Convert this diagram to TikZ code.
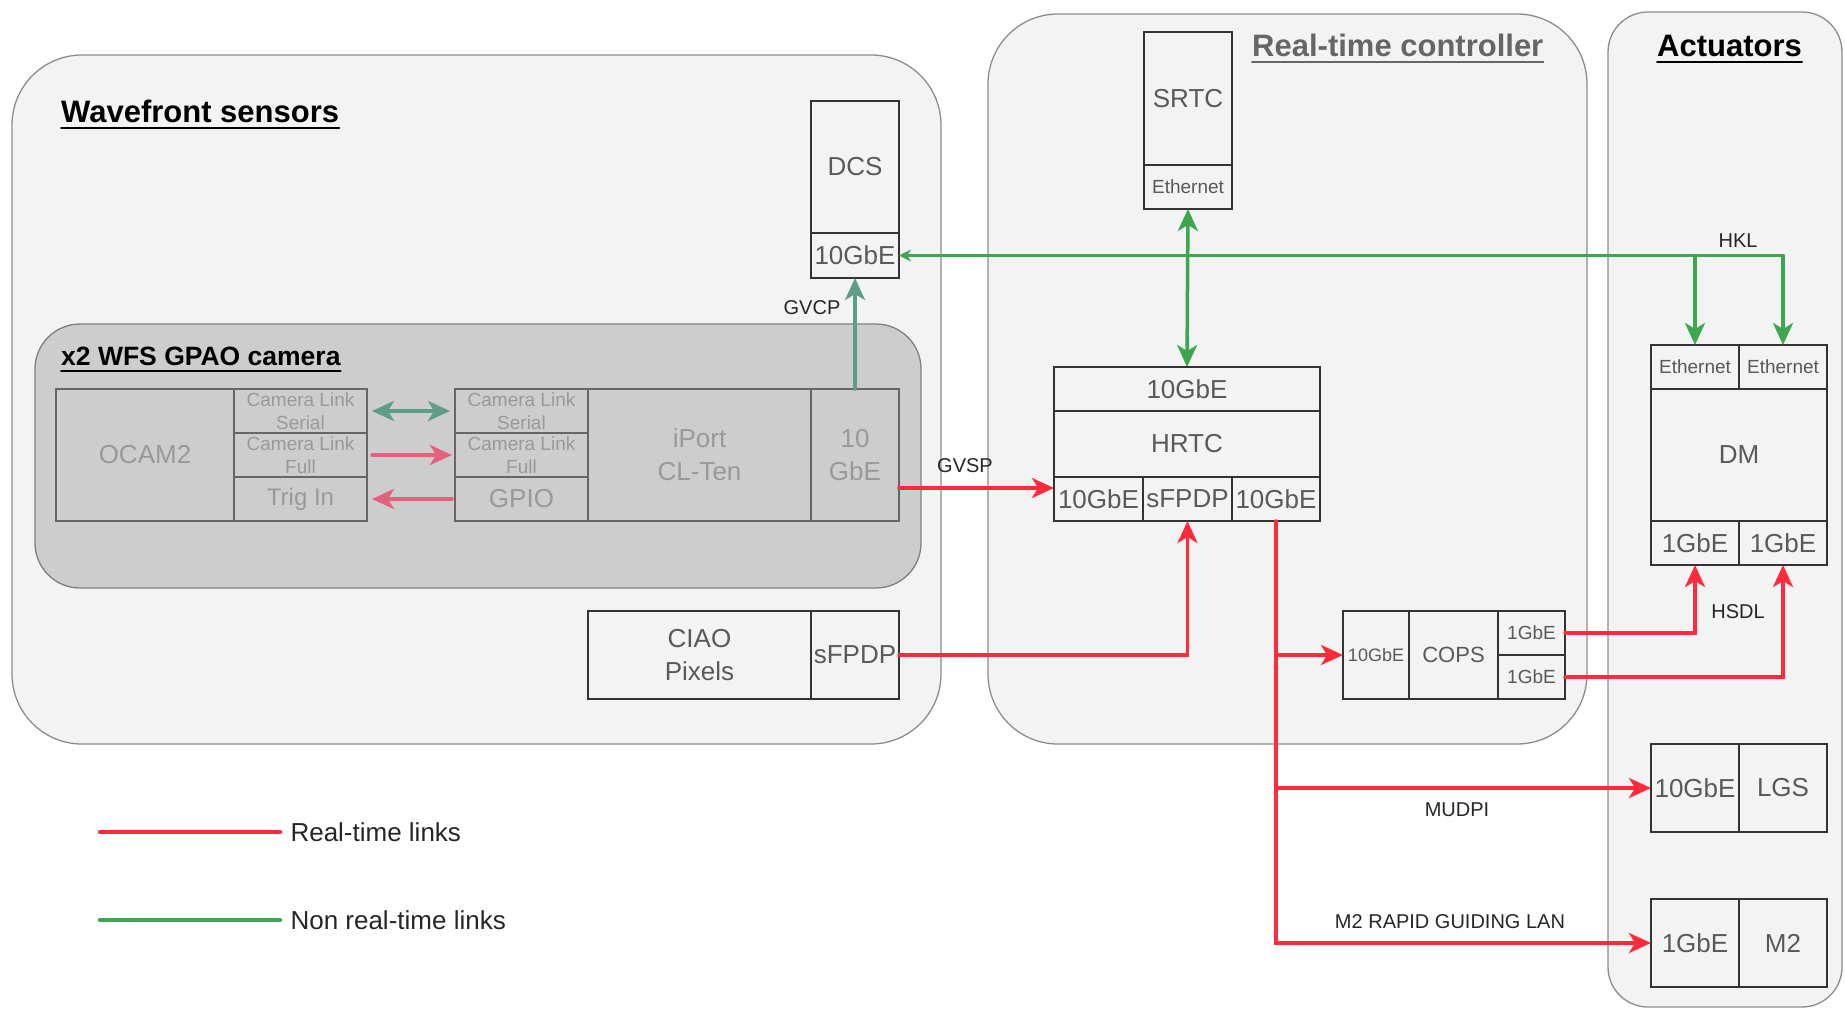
\documentclass[tikz,border=0pt]{standalone}
\usepackage{fontspec}
\setmainfont{Liberation Sans}
\usetikzlibrary{arrows.meta}

\definecolor{rtred}{HTML}{FF2B3C}
\definecolor{camred}{HTML}{E4607C}
\definecolor{nrtgreen}{HTML}{3DA64F}
\definecolor{camgreen}{HTML}{5E9E86}
\definecolor{groupfill}{HTML}{F3F3F3}
\definecolor{camfill}{HTML}{CDCDCD}

\newcommand{\pxfont}[2]{\fontsize{#1}{#2}\selectfont}

\begin{document}
\begin{tikzpicture}[x=1pt,y=-1pt,line cap=round,
    >={Stealth[length=22pt,width=20pt,inset=6pt]},
    cell/.style={draw=black!80,line width=1.4pt,inner sep=0pt,outer sep=0pt,anchor=north west,
        text=black!65,align=center,font=\pxfont{26}{33}},
    camcell/.style={cell,draw=black!60,text=black!40},
    small/.style={font=\pxfont{19}{23}},
    group/.style={draw=black!45,line width=1.3pt,fill=groupfill},
    title/.style={anchor=base west,inner sep=0pt,font=\bfseries\pxfont{31}{35}},
    rt/.style={draw=rtred,line width=3.5pt},
    nrt/.style={draw=nrtgreen,line width=3.5pt},
    lbl/.style={font=\pxfont{20}{23},text=black!85}]

    \useasboundingbox[fill=white] (0,0) rectangle (1845,1009);

    \draw[group,rounded corners=70pt] (12,55) rectangle (941,744);
    \draw[group,rounded corners=70pt] (988,14) rectangle (1587,744);
    \draw[group,rounded corners=40pt] (1608,12) rectangle (1842,1007);
    \draw[draw=black!50,line width=1.3pt,fill=camfill,rounded corners=45pt] (35,324) rectangle (921,588);

    \node[title] (wfst) at (61,122) {Wavefront sensors};
    \node[title,text=black!60] (rtct) at (1252,56) {Real-time controller};
    \node[title] (actt) at (1657,56) {Actuators};
    \node[title,font=\bfseries\pxfont{26.5}{30}] (camt) at (61,365) {x2 WFS GPAO camera};
    \foreach \t/\c in {wfst/black,rtct/black!60,actt/black,camt/black}{
        \draw[\c,line width=1.6pt] ([yshift=-6pt]\t.base west) -- ([yshift=-6pt]\t.base east);
    }

    \node[camcell,minimum width=178,minimum height=132] (ocam) at (56,389) {OCAM2};
    \node[camcell,small,minimum width=133,minimum height=44] (serA) at (234,389) {Camera Link\\Serial};
    \node[camcell,small,minimum width=133,minimum height=44] (fullA) at (234,433) {Camera Link\\Full};
    \node[camcell,font=\pxfont{24}{28},minimum width=133,minimum height=44] (trig) at (234,477) {Trig In};
    \node[camcell,small,minimum width=133,minimum height=44] (serB) at (455,389) {Camera Link\\Serial};
    \node[camcell,small,minimum width=133,minimum height=44] (fullB) at (455,433) {Camera Link\\Full};
    \node[camcell,minimum width=133,minimum height=44] (gpio) at (455,477) {GPIO};
    \node[camcell,minimum width=223,minimum height=132] (iport) at (588,389) {iPort\\CL-Ten};
    \node[camcell,minimum width=88,minimum height=132] (camgbe) at (811,389) {10\\GbE};

    \node[cell,minimum width=88,minimum height=132] (dcs) at (811,101) {DCS};
    \node[cell,minimum width=88,minimum height=45] (dcsgbe) at (811,233) {10GbE};

    \node[cell,minimum width=223,minimum height=88] (ciao) at (588,611) {CIAO\\Pixels};
    \node[cell,minimum width=88,minimum height=88] (ciaosfpdp) at (811,611) {sFPDP};

    \node[cell,minimum width=88,minimum height=133] (srtc) at (1144,32) {SRTC};
    \node[cell,small,minimum width=88,minimum height=44] (srtceth) at (1144,165) {Ethernet};

    \node[cell,minimum width=266,minimum height=44] (hrtcgbe) at (1054,367) {10GbE};
    \node[cell,minimum width=266,minimum height=66] (hrtc) at (1054,411) {HRTC};
    \node[cell,minimum width=89,minimum height=44] (hrtcin) at (1054,477) {10GbE};
    \node[cell,minimum width=89,minimum height=44] (hrtcsfpdp) at (1143,477) {sFPDP};
    \node[cell,minimum width=88,minimum height=44] (hrtcout) at (1232,477) {10GbE};

    \node[cell,font=\pxfont{18}{22},minimum width=66,minimum height=88] (copsin) at (1343,611) {10GbE};
    \node[cell,font=\pxfont{22}{26},minimum width=89,minimum height=88] (cops) at (1409,611) {COPS};
    \node[cell,font=\pxfont{19}{23},minimum width=67,minimum height=44] (copsa) at (1498,611) {1GbE};
    \node[cell,font=\pxfont{19}{23},minimum width=67,minimum height=44] (copsb) at (1498,655) {1GbE};

    \node[cell,small,minimum width=88,minimum height=44] (dmetha) at (1651,345) {Ethernet};
    \node[cell,small,minimum width=88,minimum height=44] (dmethb) at (1739,345) {Ethernet};
    \node[cell,minimum width=176,minimum height=132] (dm) at (1651,389) {DM};
    \node[cell,minimum width=88,minimum height=44] (dmgbea) at (1651,521) {1GbE};
    \node[cell,minimum width=88,minimum height=44] (dmgbeb) at (1739,521) {1GbE};

    \node[cell,minimum width=88,minimum height=88] (lgsgbe) at (1651,744) {10GbE};
    \node[cell,minimum width=88,minimum height=88] (lgs) at (1739,744) {LGS};
    \node[cell,minimum width=88,minimum height=88] (m2gbe) at (1651,899) {1GbE};
    \node[cell,minimum width=88,minimum height=88] (m2) at (1739,899) {M2};

    \draw[camgreen,line width=3.5pt,<->,shorten <=5pt,shorten >=5pt] (serA.east) -- (serB.west);
    \draw[camred,line width=3.5pt,->,shorten <=5pt,shorten >=3pt] (fullA.east) -- (fullB.west);
    \draw[camred,line width=3.5pt,->,shorten <=3pt,shorten >=5pt] (gpio.west) -- (trig.east);
    \draw[camgreen,line width=3.5pt,->] (camgbe.north) -- (dcsgbe.south);
    \draw[rt,->] ([yshift=-33pt]camgbe.east) -- ([yshift=11pt]hrtcin.west);

    \draw[nrt,{Stealth[length=12pt,width=12pt]}-] (dcsgbe.east) -- (dcsgbe.east -| dmethb.north);
    \draw[nrt,->] (dcsgbe.east -| dmetha.north) -- (dmetha.north);
    \draw[nrt,->] (dcsgbe.east -| dmethb.north) -- (dmethb.north);
    \draw[nrt,<->] (srtceth.south) -- (hrtcgbe.north);

    \draw[rt,->] (ciaosfpdp.east) -| (hrtcsfpdp.south);
    \draw[rt,->] (hrtcout.south) |- (m2gbe.west);
    \draw[rt,->] (hrtcout.south |- copsin.west) -- (copsin.west);
    \draw[rt,->] (hrtcout.south |- lgsgbe.west) -- (lgsgbe.west);
    \draw[rt,->] (copsa.east) -| (dmgbea.south);
    \draw[rt,->] (copsb.east) -| (dmgbeb.south);

    \node[lbl] (gvcp) at (812,308) {GVCP};
    \node[lbl] (gvsp) at (965,466) {GVSP};
    \node[lbl] (hkl) at (1738,241) {HKL};
    \node[lbl] (hsdl) at (1738,612) {HSDL};
    \node[lbl] (mudpi) at (1457,810) {MUDPI};
    \node[lbl] (m2lan) at (1450,922) {M2 RAPID GUIDING LAN};

    \coordinate (rta) at (100,832);
    \coordinate (rtb) at (280,832);
    \coordinate (nrta) at (100,920);
    \coordinate (nrtb) at (280,920);
    \draw[rt,line width=4.5pt] (rta) -- (rtb);
    \draw[nrt,line width=4.5pt] (nrta) -- (nrtb);
    \node[anchor=west,font=\pxfont{26}{30},text=black!85] (rtlbl) at (287,832) {Real-time links};
    \node[anchor=west,font=\pxfont{26}{30},text=black!85] (nrtlbl) at (287,920) {Non real-time links};
\end{tikzpicture}
\end{document}
